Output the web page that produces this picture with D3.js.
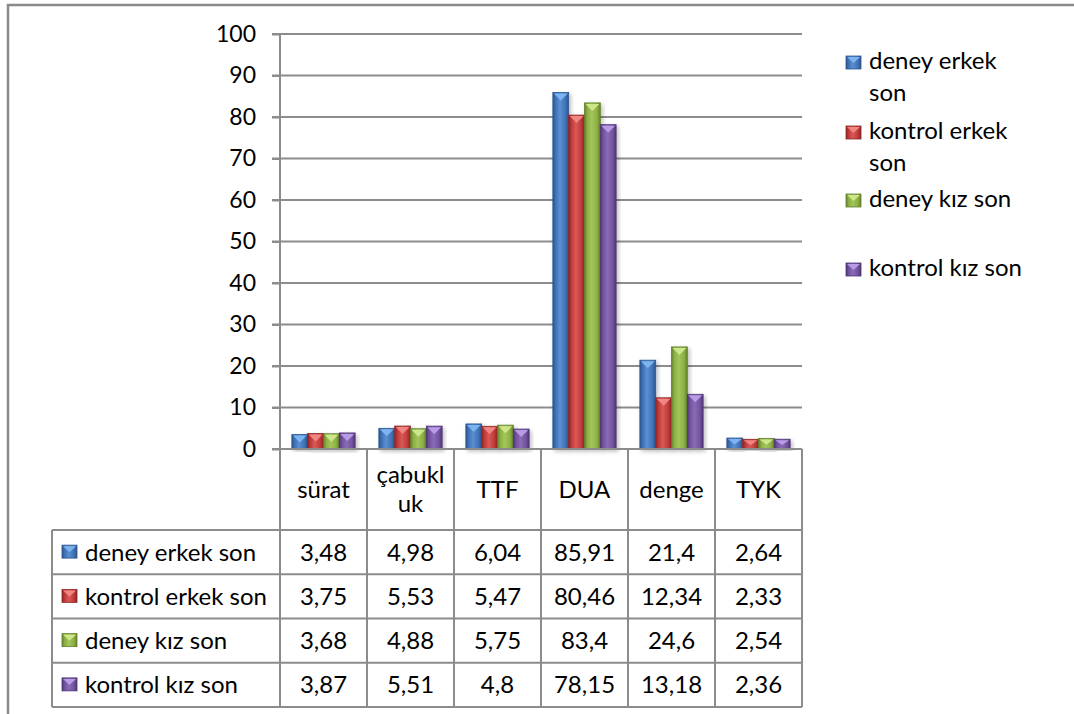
<!DOCTYPE html>
<html>
<head>
<meta charset="utf-8">
<script src="https://cdn.jsdelivr.net/npm/d3@7"></script>
<style>
  body { margin: 0; background: #fff; }
  svg text { font-family: Lato, "Liberation Sans", sans-serif; font-size: 24px; fill: #000; }
</style>
</head>
<body>
<div id="wrapper"></div>
<script>
// data
const categories = ["sürat", "çabukluk", "TTF", "DUA", "denge", "TYK"];
const seriesNames = ["deney erkek son", "kontrol erkek son", "deney kız son", "kontrol kız son"];
const deneyErkek = [3.48, 4.98, 6.04, 85.91, 21.4, 2.64];
const kontrolErkek = [3.75, 5.53, 5.47, 80.46, 12.34, 2.33];
const deneyKiz = [3.68, 4.88, 5.75, 83.4, 24.6, 2.54];
const kontrolKiz = [3.87, 5.51, 4.8, 78.15, 13.18, 2.36];
const yTicks = [0, 10, 20, 30, 40, 50, 60, 70, 80, 90, 100];

const seriesValues = [deneyErkek, kontrolErkek, deneyKiz, kontrolKiz];
const seriesColors = [
  { dark: "#2c5590", base: "#3f72b5", light: "#5b8fd0", top: "#7cb4f0" },
  { dark: "#8e2624", base: "#c03a38", light: "#d85a57", top: "#f08682" },
  { dark: "#63802c", base: "#8cb043", light: "#a3c55c", top: "#cde68a" },
  { dark: "#4e3575", base: "#72529d", light: "#8a6bb5", top: "#b99ae6" },
];

const dataset = categories.map((c, i) => ({
  category: c,
  values: seriesNames.map((s, j) => ({ series: s, idx: j, value: seriesValues[j][i] }))
}));

const fmt = v => String(v).replace(".", ",");

// dimensions
const width = 1074, height = 714;
const plot = { left: 280, right: 802, top: 34, bottom: 449 };
const table = { left: 52, headerBottom: 530, bottom: 707 };

const svg = d3.select("#wrapper").append("svg")
  .attr("width", width)
  .attr("height", height);

const defs = svg.append("defs");
seriesColors.forEach((c, i) => {
  const g = defs.append("linearGradient")
    .attr("id", "grad" + i)
    .attr("x1", "0").attr("x2", "1").attr("y1", "0").attr("y2", "0");
  g.append("stop").attr("offset", "0%").attr("stop-color", c.dark);
  g.append("stop").attr("offset", "18%").attr("stop-color", c.base);
  g.append("stop").attr("offset", "45%").attr("stop-color", c.light);
  g.append("stop").attr("offset", "80%").attr("stop-color", c.base);
  g.append("stop").attr("offset", "100%").attr("stop-color", c.dark);
});
const shadow = defs.append("filter").attr("id", "shadow")
  .attr("x", "-30%").attr("y", "-10%").attr("width", "160%").attr("height", "130%");
shadow.append("feDropShadow")
  .attr("dx", 2).attr("dy", 2).attr("stdDeviation", 2)
  .attr("flood-color", "#000").attr("flood-opacity", 0.25);

// outer frame
svg.append("rect")
  .attr("x", 8).attr("y", 5)
  .attr("width", width + 20).attr("height", height + 20)
  .attr("fill", "none")
  .attr("stroke", "#8a8a8a")
  .attr("stroke-width", 2.5);

// scales
const x0 = d3.scaleBand()
  .domain(categories)
  .range([plot.left, plot.right]);

const barW = x0.bandwidth() / 5.5; // excel gap width 150%
const x1 = d3.scaleBand()
  .domain(d3.range(seriesNames.length))
  .range([0, barW * seriesNames.length]);
const groupOffset = (x0.bandwidth() - barW * seriesNames.length) / 2;

const yScale = d3.scaleLinear()
  .domain([0, 100])
  .range([plot.bottom, plot.top]);

const rowScale = d3.scaleBand()
  .domain(seriesNames)
  .range([table.headerBottom, table.bottom]);

const lineColor = "#8c8c8c";

// grid
svg.append("g")
  .attr("class", "grid")
  .selectAll("line")
  .data(yTicks)
  .join("line")
  .attr("x1", plot.left - 8)
  .attr("x2", plot.right)
  .attr("y1", d => yScale(d))
  .attr("y2", d => yScale(d))
  .attr("stroke", lineColor)
  .attr("stroke-width", 2);

// y axis
const yAxis = svg.append("g")
  .attr("transform", `translate(${plot.left}, 0)`)
  .call(d3.axisLeft(yScale).tickValues(yTicks).tickSize(8).tickPadding(16));
yAxis.select(".domain").remove();
yAxis.selectAll(".tick line").attr("stroke", lineColor).attr("stroke-width", 2);
yAxis.selectAll(".tick text")
  .style("font-size", "23px")
  .style("font-family", "Lato, sans-serif")
  .attr("fill", "#000");

svg.append("line")
  .attr("x1", plot.left).attr("x2", plot.left)
  .attr("y1", yScale(100)).attr("y2", table.bottom)
  .attr("stroke", lineColor).attr("stroke-width", 2);

// bars
const groups = svg.append("g")
  .selectAll("g")
  .data(dataset)
  .join("g")
  .attr("transform", d => `translate(${x0(d.category) + groupOffset}, 0)`);

const bars = groups.selectAll("g.bar")
  .data(d => d.values)
  .join("g")
  .attr("class", "bar");

bars.append("rect")
  .attr("x", d => x1(d.idx))
  .attr("y", d => yScale(d.value))
  .attr("width", x1.bandwidth())
  .attr("height", d => yScale(0) - yScale(d.value))
  .attr("fill", d => `url(#grad${d.idx})`)
  .attr("stroke", d => seriesColors[d.idx].dark)
  .attr("stroke-width", 0.8)
  .attr("filter", "url(#shadow)");

bars.append("path")
  .attr("d", d => {
    const xa = x1(d.idx) + 1, xb = x1(d.idx) + x1.bandwidth() - 1;
    const y = yScale(d.value) + 1;
    const h = Math.min(7, (yScale(0) - yScale(d.value)) / 2);
    return `M${xa},${y}L${xb},${y}L${(xa + xb) / 2},${y + h}Z`;
  })
  .attr("fill", d => seriesColors[d.idx].top);

// table lines
const tableG = svg.append("g").attr("class", "table");
const hLines = [plot.bottom, ...seriesNames.map(s => rowScale(s)), table.bottom];
tableG.selectAll("line.h")
  .data(hLines)
  .join("line")
  .attr("class", "h")
  .attr("x1", (d, i) => i === 0 ? plot.left : table.left)
  .attr("x2", plot.right)
  .attr("y1", d => d).attr("y2", d => d)
  .attr("stroke", lineColor).attr("stroke-width", 2);

const vLines = [...categories.map(c => x0(c)), plot.right];
tableG.selectAll("line.v")
  .data(vLines)
  .join("line")
  .attr("class", "v")
  .attr("x1", d => d).attr("x2", d => d)
  .attr("y1", plot.bottom).attr("y2", table.bottom)
  .attr("stroke", lineColor).attr("stroke-width", 2);

tableG.append("line")
  .attr("x1", table.left).attr("x2", table.left)
  .attr("y1", table.headerBottom).attr("y2", table.bottom)
  .attr("stroke", lineColor).attr("stroke-width", 2);

// category headers, wrapped to the column width
const headerMid = (plot.bottom + table.headerBottom) / 2;
const headers = tableG.selectAll("text.header")
  .data(categories)
  .join("text")
  .attr("class", "header")
  .attr("text-anchor", "middle")
  .attr("x", d => x0(d) + x0.bandwidth() / 2);

headers.each(function(d) {
  const t = d3.select(this);
  const maxW = x0.bandwidth() - 12;
  const lines = [];
  let cur = "";
  const probe = t.append("tspan");
  for (const ch of d) {
    probe.text(cur + ch);
    if (probe.node().getComputedTextLength() > maxW && cur) {
      lines.push(cur);
      cur = ch;
    } else {
      cur += ch;
    }
  }
  lines.push(cur);
  probe.remove();
  const lh = 29;
  lines.forEach((l, i) => {
    t.append("tspan")
      .attr("x", x0(d) + x0.bandwidth() / 2)
      .attr("y", headerMid + (i - (lines.length - 1) / 2) * lh)
      .attr("dy", "0.35em")
      .text(l);
  });
});

// value cells
const rows = tableG.selectAll("g.row")
  .data(seriesNames)
  .join("g")
  .attr("class", "row")
  .attr("transform", d => `translate(0, ${rowScale(d) + rowScale.bandwidth() / 2})`);

rows.selectAll("text.val")
  .data((d, i) => seriesValues[i].map((v, j) => ({ v, c: categories[j] })))
  .join("text")
  .attr("class", "val")
  .attr("text-anchor", "middle")
  .attr("x", d => x0(d.c) + x0.bandwidth() / 2)
  .attr("dy", "0.35em")
  .text(d => fmt(d.v));

function drawKey(sel, i) {
  const c = seriesColors[i];
  sel.append("rect")
    .attr("width", 15).attr("height", 13)
    .attr("fill", `url(#grad${i})`)
    .attr("stroke", c.dark).attr("stroke-width", 0.8);
  sel.append("path")
    .attr("d", "M1,1L14,1L7.5,7Z")
    .attr("fill", c.top);
}

rows.append("g")
  .attr("transform", "translate(62, -7)")
  .each(function(d, i) { drawKey(d3.select(this), i); });

rows.append("text")
  .attr("x", 85)
  .attr("dy", "0.35em")
  .text(d => d);

// legend
const legendTops = [69, 139, 207, 276];
const legend = svg.append("g").attr("class", "legend");
const items = legend.selectAll("g")
  .data(seriesNames)
  .join("g")
  .attr("transform", (d, i) => `translate(846, ${legendTops[i]})`);

items.append("g")
  .attr("transform", "translate(0, -13)")
  .each(function(d, i) { drawKey(d3.select(this), i); });

items.each(function(d) {
  const t = d3.select(this).append("text").attr("x", 23);
  const words = d.split(" ");
  const maxW = 165;
  const lines = [];
  let cur = [];
  const probe = t.append("tspan");
  words.forEach(w => {
    probe.text([...cur, w].join(" "));
    if (probe.node().getComputedTextLength() > maxW && cur.length) {
      lines.push(cur.join(" "));
      cur = [w];
    } else {
      cur.push(w);
    }
  });
  lines.push(cur.join(" "));
  probe.remove();
  lines.forEach((l, i) => {
    t.append("tspan").attr("x", 23).attr("y", i * 32).text(l);
  });
});
</script>
</body>
</html>
